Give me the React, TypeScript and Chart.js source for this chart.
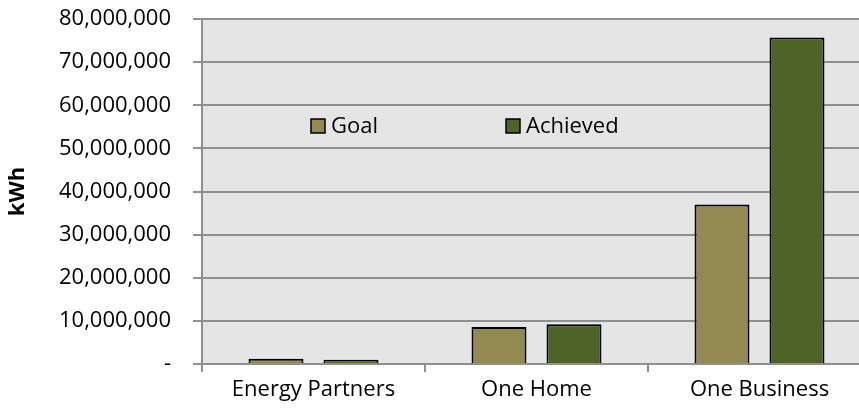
import React, { useEffect, useRef } from "react";
import { Chart, registerables } from "chart.js";

Chart.register(...registerables);

const categories = ["Energy Partners", "One Home", "One Business"];
const goalValues = [1200000, 8600000, 37000000];
const achievedValues = [1000000, 9200000, 75700000];
const seriesNames = ["Goal", "Achieved"];
const seriesColors = ["#938953", "#4F6228"];
const yTitle = "kWh";

const FONT = "'Open Sans', 'Noto Sans', sans-serif";
const GRID = "#8f8f8f";

// Fills the plot area with the light grey panel before anything else is drawn.
const plotBackground = {
  id: "plotBackground",
  beforeDraw(chart: any) {
    const { ctx, chartArea } = chart;
    ctx.save();
    ctx.fillStyle = "#E5E5E5";
    ctx.fillRect(chartArea.left, chartArea.top, chartArea.right - chartArea.left, chartArea.bottom - chartArea.top);
    ctx.restore();
  },
};

// Legend drawn inside the plot area, one row.
const innerLegend = {
  id: "innerLegend",
  afterDraw(chart: any) {
    const { ctx, chartArea } = chart;
    const offsets = [109, 304];
    const y = chartArea.top + 107;
    ctx.save();
    chart.data.datasets.forEach((ds: any, i: number) => {
      const x = chartArea.left + offsets[i];
      ctx.fillStyle = ds.backgroundColor;
      ctx.fillRect(x, y - 7, 14, 14);
      ctx.lineWidth = 1.5;
      ctx.strokeStyle = "#000";
      ctx.strokeRect(x, y - 7, 14, 14);
      ctx.fillStyle = "#000";
      ctx.font = `22px ${FONT}`;
      ctx.textBaseline = "middle";
      ctx.textAlign = "left";
      ctx.fillText(ds.label, x + 20, y + 1);
    });
    ctx.restore();
  },
};

export default function App() {
  const canvasRef = useRef<HTMLCanvasElement | null>(null);

  useEffect(() => {
    const canvas = canvasRef.current;
    if (!canvas) return;
    const chart = new Chart(canvas, {
      type: "bar",
      data: {
        labels: categories,
        datasets: [
          {
            label: seriesNames[0],
            data: goalValues,
            backgroundColor: seriesColors[0],
            borderColor: "#000",
            borderWidth: 2,
            categoryPercentage: 0.6726,
            barPercentage: 0.733,
          },
          {
            label: seriesNames[1],
            data: achievedValues,
            backgroundColor: seriesColors[1],
            borderColor: "#000",
            borderWidth: 2,
            categoryPercentage: 0.6726,
            barPercentage: 0.733,
          },
        ],
      },
      options: {
        responsive: false,
        animation: false,
        devicePixelRatio: 1,
        layout: { padding: { top: 19, right: 1, bottom: 0, left: 0 } },
        plugins: {
          legend: { display: false },
          tooltip: { enabled: false },
        },
        scales: {
          x: {
            afterFit(scale: any) {
              scale.height = 48;
            },
            grid: {
              offset: true,
              drawOnChartArea: false,
              drawTicks: true,
              tickLength: 8,
              color: GRID,
              lineWidth: 2,
            },
            border: { display: true, color: GRID, width: 2 },
            ticks: {
              color: "#000",
              padding: 5,
              font: { family: FONT, size: 22 },
              maxRotation: 0,
            },
          },
          y: {
            min: 0,
            max: 80000000,
            afterFit(scale: any) {
              scale.width = 202;
              scale.paddingTop = 0;
              scale.paddingBottom = 0;
            },
            grid: {
              color: GRID,
              lineWidth: 2,
              tickLength: 9,
            },
            border: { display: true, color: GRID, width: 2 },
            ticks: {
              stepSize: 10000000,
              color: "#000",
              padding: 22,
              font: { family: FONT, size: 22 },
              callback: (v: any) => (Number(v) === 0 ? "-" : Number(v).toLocaleString("en-US")),
            },
            title: {
              display: true,
              text: yTitle,
              color: "#000",
              font: { family: FONT, size: 22, weight: "bold" },
              padding: { top: 5, bottom: 0 },
            },
          },
        },
      },
      plugins: [plotBackground, innerLegend],
    });
    return () => chart.destroy();
  }, []);

  return (
    <div
      style={{
        position: "fixed",
        left: 0,
        top: 0,
        width: 859,
        height: 412,
        overflow: "hidden",
        background: "#fff",
      }}
    >
      <canvas ref={canvasRef} width={872} height={412} style={{ display: "block" }} />
    </div>
  );
}
